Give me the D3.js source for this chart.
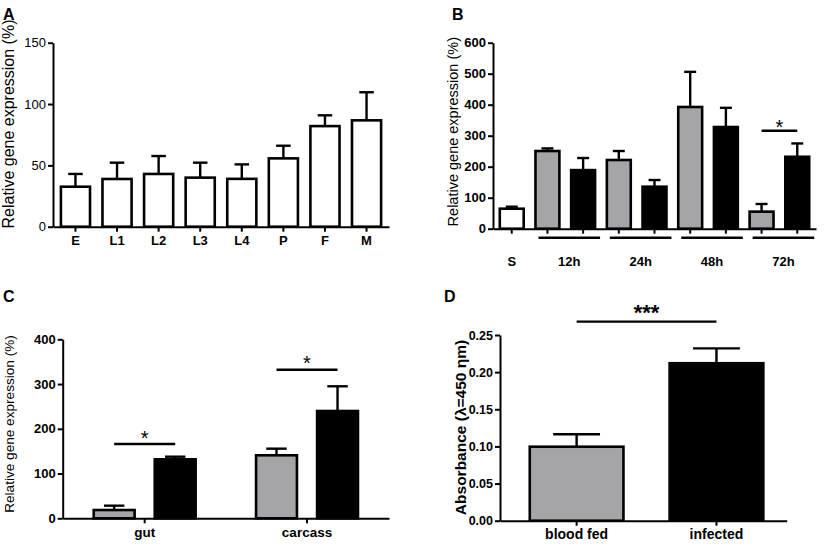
<!DOCTYPE html>
<html>
<head>
<meta charset="utf-8">
<script src="https://cdn.jsdelivr.net/npm/d3@7"></script>
<style>
  body { margin: 0; background: #fff; }
  svg { display: block; }
  text { font-family: "Liberation Sans", Arial, sans-serif; }
</style>
</head>
<body>
<div id="fig"></div>
<script>
// Panel A - developmental stages
const stagesA = ["E", "L1", "L2", "L3", "L4", "P", "F", "M"];
const meanA = [32.6, 38.9, 43, 40, 39, 55.7, 82, 86.7];
const semA = [10.4, 13.3, 14.6, 12.2, 11.8, 10.3, 8.8, 22.9];

// Panel B - time course (S = sugar fed control)
const timesB = ["S", "12h", "12h", "24h", "24h", "48h", "48h", "72h", "72h"];
const kindB = ["control", "blood", "infected", "blood", "infected", "blood", "infected", "blood", "infected"];
const meanB = [64.5, 250.6, 189, 221.6, 135.5, 392.6, 328, 55, 232];
const semB = [6.5, 8.4, 39, 29, 21.5, 113.4, 62, 24.7, 43];
const groupsB = ["12h", "24h", "48h", "72h"];

// Panel C - tissues
const tissuesC = ["gut", "carcass"];
const kindC = ["blood", "infected"];
const meanBloodC = [18.5, 140.8];
const semBloodC = [9.7, 14.8];
const meanInfC = [131.8, 239.8];
const semInfC = [5.9, 55.2];

// Panel D - absorbance
const groupsD = ["blood fed", "infected"];
const kindD = ["blood", "infected"];
const meanD = [0.0996, 0.212];
const semD = [0.0167, 0.020];

const GRAY = "#a5a4a9";
function fillOf(k) {
    if (k === "blood") return GRAY;
    if (k === "infected") return "#000";
    return "#fff";
}

const svg = d3.select("#fig").append("svg")
    .attr("width", 829)
    .attr("height", 544);

// draws a bar with an upward error bar (cap centred, half the bar wide)
function bar(g, x, w, y, mean, sem, fill) {
    g.append("rect")
        .attr("x", x)
        .attr("y", y(mean))
        .attr("width", w)
        .attr("height", y(0) - y(mean))
        .attr("fill", fill)
        .attr("stroke", "#000")
        .attr("stroke-width", 2.6);
    const cx = x + w / 2;
    g.append("line")
        .attr("x1", cx).attr("x2", cx)
        .attr("y1", y(mean)).attr("y2", y(mean + sem))
        .attr("stroke", "#000").attr("stroke-width", 2.4);
    g.append("line")
        .attr("x1", cx - w / 4).attr("x2", cx + w / 4)
        .attr("y1", y(mean + sem)).attr("y2", y(mean + sem))
        .attr("stroke", "#000").attr("stroke-width", 2.4);
}

function styleAxis(ax, size, weight) {
    ax.select(".domain").attr("stroke-width", 2);
    ax.selectAll(".tick line").attr("stroke-width", 2);
    ax.selectAll(".tick text")
        .attr("font-size", size)
        .attr("font-weight", weight)
        .attr("fill", "#000")
        .style("font-family", "'Liberation Sans', Arial, sans-serif");
}

function letter(t, x, y) {
    svg.append("text").attr("x", x).attr("y", y)
        .attr("font-size", 16).attr("font-weight", "bold").text(t);
}

function yTitle(t, x, y, size, weight) {
    svg.append("text")
        .attr("transform", `translate(${x},${y}) rotate(-90)`)
        .attr("text-anchor", "middle")
        .attr("font-size", size)
        .attr("font-weight", weight || "normal")
        .text(t);
}

function sigLine(x1, x2, yy, label, size, weight, gap) {
    svg.append("line")
        .attr("x1", x1).attr("x2", x2).attr("y1", yy).attr("y2", yy)
        .attr("stroke", "#000").attr("stroke-width", 2.4);
    svg.append("text")
        .attr("x", (x1 + x2) / 2).attr("y", yy + gap)
        .attr("text-anchor", "middle")
        .attr("font-size", size).attr("font-weight", weight)
        .text(label);
}

// ---------- A ----------
const xA = d3.scaleBand().domain(stagesA).range([53, 389]).paddingInner(0.3).paddingOuter(0.19);
const yA = d3.scaleLinear().domain([0, 150]).range([226.7, 42.7]);
const gA = svg.append("g");
stagesA.forEach((s, i) => bar(gA, xA(s), xA.bandwidth(), yA, meanA[i], semA[i], "#fff"));
const axA = svg.append("g").attr("transform", `translate(53,0)`)
    .call(d3.axisLeft(yA).tickValues([0, 50, 100, 150]).tickSize(5).tickSizeOuter(0).tickPadding(2));
styleAxis(axA, 13, "normal");
const bxA = svg.append("g").attr("transform", `translate(0,${yA(0)})`)
    .call(d3.axisBottom(xA).tickSize(5).tickSizeOuter(0).tickPadding(4));
styleAxis(bxA, 13, "bold");
letter("A", 3, 20);
yTitle("Relative gene expression (%)", 14, 124, 16);

// ---------- B ----------
const xB = d3.scaleBand().domain(d3.range(timesB.length)).range([493, 816]).paddingInner(0.33).paddingOuter(0.19);
const yB = d3.scaleLinear().domain([0, 600]).range([228.7, 42.7]);
const gB = svg.append("g");
meanB.forEach((m, i) => bar(gB, xB(i), xB.bandwidth(), yB, m, semB[i], fillOf(kindB[i])));
const axB = svg.append("g").attr("transform", `translate(493,0)`)
    .call(d3.axisLeft(yB).ticks(6).tickSize(5).tickSizeOuter(0).tickPadding(2));
styleAxis(axB, 13, "bold");
const bxB = svg.append("g").attr("transform", `translate(0,${yB(0)})`)
    .call(d3.axisBottom(xB).tickSize(5).tickSizeOuter(0).tickFormat(""));
styleAxis(bxB, 13, "bold");
// S label
svg.append("text").attr("x", xB(0) + xB.bandwidth() / 2).attr("y", 266)
    .attr("text-anchor", "middle").attr("font-size", 13).attr("font-weight", "bold").text(timesB[0]);
// group underlines + labels
groupsB.forEach(gname => {
    const idx = timesB.map((t, i) => t === gname ? i : -1).filter(i => i >= 0);
    const x1 = xB(idx[0]) + 3;
    const x2 = xB(idx[idx.length - 1]) + xB.bandwidth() + 5;
    svg.append("line").attr("x1", x1).attr("x2", x2).attr("y1", 237.7).attr("y2", 237.7)
        .attr("stroke", "#000").attr("stroke-width", 2.6);
    svg.append("text").attr("x", (x1 + x2) / 2).attr("y", 266)
        .attr("text-anchor", "middle").attr("font-size", 13).attr("font-weight", "bold").text(gname);
});
// significance at 72h
sigLine(xB(7) + xB.bandwidth() / 2, xB(8) + xB.bandwidth() / 2, yB(316), "*", 20, "normal", 3.5);
letter("B", 452, 20);
yTitle("Relative gene expression (%)", 458, 131.7, 14.5);

// ---------- C ----------
const xC = d3.scaleBand().domain(tissuesC).range([62.7, 389]).paddingInner(0).paddingOuter(0.005);
const xCi = d3.scaleBand().domain(kindC).range([0, xC.bandwidth()]).paddingInner(0.33).paddingOuter(0.495);
const yC = d3.scaleLinear().domain([0, 400]).range([518.3, 339.3]);
const gC = svg.append("g");
tissuesC.forEach((t, i) => {
    bar(gC, xC(t) + xCi("blood"), xCi.bandwidth(), yC, meanBloodC[i], semBloodC[i], fillOf("blood"));
    bar(gC, xC(t) + xCi("infected"), xCi.bandwidth(), yC, meanInfC[i], semInfC[i], fillOf("infected"));
});
const axC = svg.append("g").attr("transform", `translate(62.7,0)`)
    .call(d3.axisLeft(yC).ticks(4).tickSize(5).tickSizeOuter(0).tickPadding(2));
styleAxis(axC, 13, "bold");
const bxC = svg.append("g").attr("transform", `translate(0,${yC(0)})`)
    .call(d3.axisBottom(xC).tickSize(5).tickSizeOuter(0).tickPadding(4));
styleAxis(bxC, 13.5, "bold");
const sigC = [166, 332];
tissuesC.forEach((t, i) => {
    const a = xC(t) + xCi("blood") + xCi.bandwidth() / 2;
    const b = xC(t) + xCi("infected") + xCi.bandwidth() / 2;
    sigLine(a, b, yC(sigC[i]), "*", 20, "normal", 0.7);
});
letter("C", 3, 302);
yTitle("Relative gene expression (%)", 14, 424, 13.6);

// ---------- D ----------
const xD = d3.scaleBand().domain(groupsD).range([500, 786.7]).paddingInner(0.33).paddingOuter(0.19).align(0.56);
const yD = d3.scaleLinear().domain([0, 0.25]).range([520.7, 335]);
const gD = svg.append("g");
groupsD.forEach((gname, i) => bar(gD, xD(gname), xD.bandwidth(), yD, meanD[i], semD[i], fillOf(kindD[i])));
const axD = svg.append("g").attr("transform", `translate(500,0)`)
    .call(d3.axisLeft(yD).tickValues([0, 0.05, 0.1, 0.15, 0.2, 0.25]).tickFormat(d3.format(".2f"))
        .tickSize(5).tickSizeOuter(0).tickPadding(2));
styleAxis(axD, 12.5, "bold");
const bxD = svg.append("g").attr("transform", `translate(0,${yD(0)})`)
    .call(d3.axisBottom(xD).tickSize(5).tickSizeOuter(0).tickPadding(3));
styleAxis(bxD, 14, "bold");
sigLine(xD(groupsD[0]) + xD.bandwidth() / 2, xD(groupsD[1]) + xD.bandwidth() / 2, yD(0.268), "***", 22, "bold", -1.7);
letter("D", 444, 302);
yTitle("Absorbance (\u03bb=450 \u03b7m)", 466, 427.5, 15.5, "bold");
</script>
</body>
</html>
